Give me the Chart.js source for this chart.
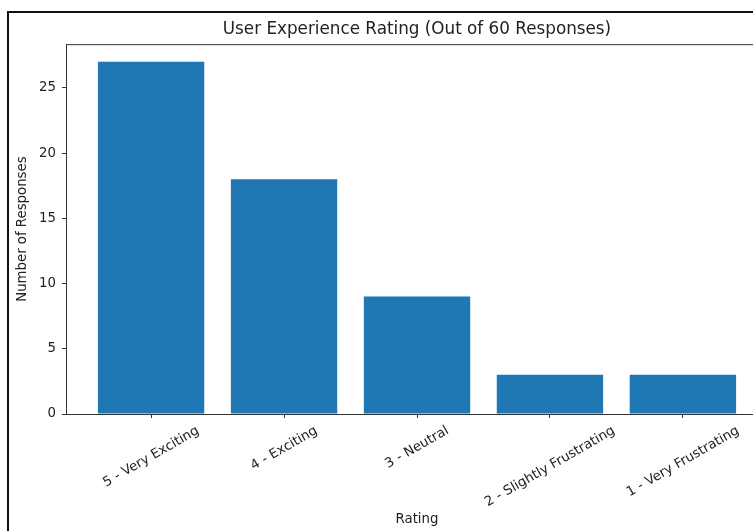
<!DOCTYPE html>
<html>
<head>
<meta charset="utf-8">
<script src="https://cdn.jsdelivr.net/npm/chart.js@4.4.0/dist/chart.umd.min.js"></script>
<style>
  html, body { margin: 0; padding: 0; background: #fff; overflow: hidden; width: 753px; height: 531px; }
  #wrap { position: absolute; left: 0; top: 0; width: 834px; height: 531px; }
  #frame { position: absolute; left: 7px; top: 11px; width: 800px; height: 600px;
           border-left: 2px solid #111; border-top: 2px solid #111; pointer-events: none; }
</style>
</head>
<body>
<div id="wrap"><canvas id="chart"></canvas></div>
<div id="frame"></div>
<script>
  const ratings = ["5 - Very Exciting", "4 - Exciting", "3 - Neutral", "2 - Slightly Frustrating", "1 - Very Frustrating"];
  const responses = [27, 18, 9, 3, 3];
  const yTickStep = 5;
  const yMax = 28.35; // 27 * 1.05 headroom, like matplotlib
  const xMin = -0.64, xMax = 4.64; // matplotlib 5% margins around the bars
  const font = "'DejaVu Sans', sans-serif";
  const tickSize = 13.3;

  // x labels centred under the tick, rotated 30deg (matplotlib style)
  const rotatedLabels = {
    id: "rotatedLabels",
    afterDraw(chart) {
      const { ctx, chartArea, scales: { x } } = chart;
      const a = Math.PI / 6, h = tickSize;
      ctx.save();
      ctx.font = tickSize + "px " + font;
      ctx.fillStyle = "#222";
      ratings.forEach((lab, i) => {
        const w = ctx.measureText(lab).width;
        const H = w * Math.sin(a) + h * Math.cos(a);
        ctx.save();
        ctx.translate(x.getPixelForValue(i), chartArea.bottom + 10 + H / 2);
        ctx.rotate(-a);
        ctx.textAlign = "center";
        ctx.textBaseline = "middle";
        ctx.fillText(lab, 0, 0);
        ctx.restore();
      });
      // top / right spines
      ctx.strokeStyle = "#333";
      ctx.lineWidth = 1;
      ctx.strokeRect(chartArea.left + 0.5, chartArea.top + 0.5, chartArea.right - chartArea.left, chartArea.bottom - chartArea.top);
      ctx.restore();
    }
  };

  new Chart(document.getElementById("chart"), {
    type: "bar",
    data: {
      datasets: [{
        data: responses.map((v, i) => ({ x: i, y: v })),
        backgroundColor: "#1f77b4",
        borderWidth: 0,
        barPercentage: 0.8,
        categoryPercentage: 1.0
      }]
    },
    options: {
      responsive: true,
      maintainAspectRatio: false,
      animation: false,
      layout: { padding: 0 },
      plugins: {
        legend: { display: false },
        tooltip: { enabled: false },
        title: {
          display: true,
          text: "User Experience Rating (Out of 60 Responses)",
          font: { family: font, size: 16.8, weight: "normal" },
          color: "#222",
          padding: { top: 20, bottom: 4 }
        }
      },
      scales: {
        x: {
          type: "linear",
          offset: false,
          min: xMin,
          max: xMax,
          afterBuildTicks: s => { s.ticks = ratings.map((r, i) => ({ value: i })); },
          afterFit: s => { s.height = 117; },
          ticks: { display: false },
          grid: { offset: false, drawOnChartArea: false, drawTicks: true, tickLength: 4, tickColor: "#333" },
          border: { color: "#333" },
          title: { display: true, text: "Rating", color: "#222", font: { family: font, size: tickSize }, padding: { top: 0, bottom: 3 } }
        },
        y: {
          min: 0,
          max: yMax,
          afterFit: s => { s.width = 66; },
          ticks: { stepSize: yTickStep, includeBounds: false, color: "#222", font: { family: font, size: tickSize }, padding: 6 },
          grid: { drawOnChartArea: false, drawTicks: true, tickLength: 4, tickColor: "#333" },
          border: { color: "#333" },
          title: { display: true, text: "Number of Responses", color: "#222", font: { family: font, size: tickSize }, padding: { top: 15, bottom: 0 } }
        },
        // empty right-hand box so the plot runs past the window edge while the title stays centred on it
        yRight: {
          position: "right",
          display: true,
          afterFit: s => { s.width = 66; },
          ticks: { display: false },
          grid: { display: false },
          border: { display: false }
        }
      }
    },
    plugins: [rotatedLabels]
  });
</script>
</body>
</html>
